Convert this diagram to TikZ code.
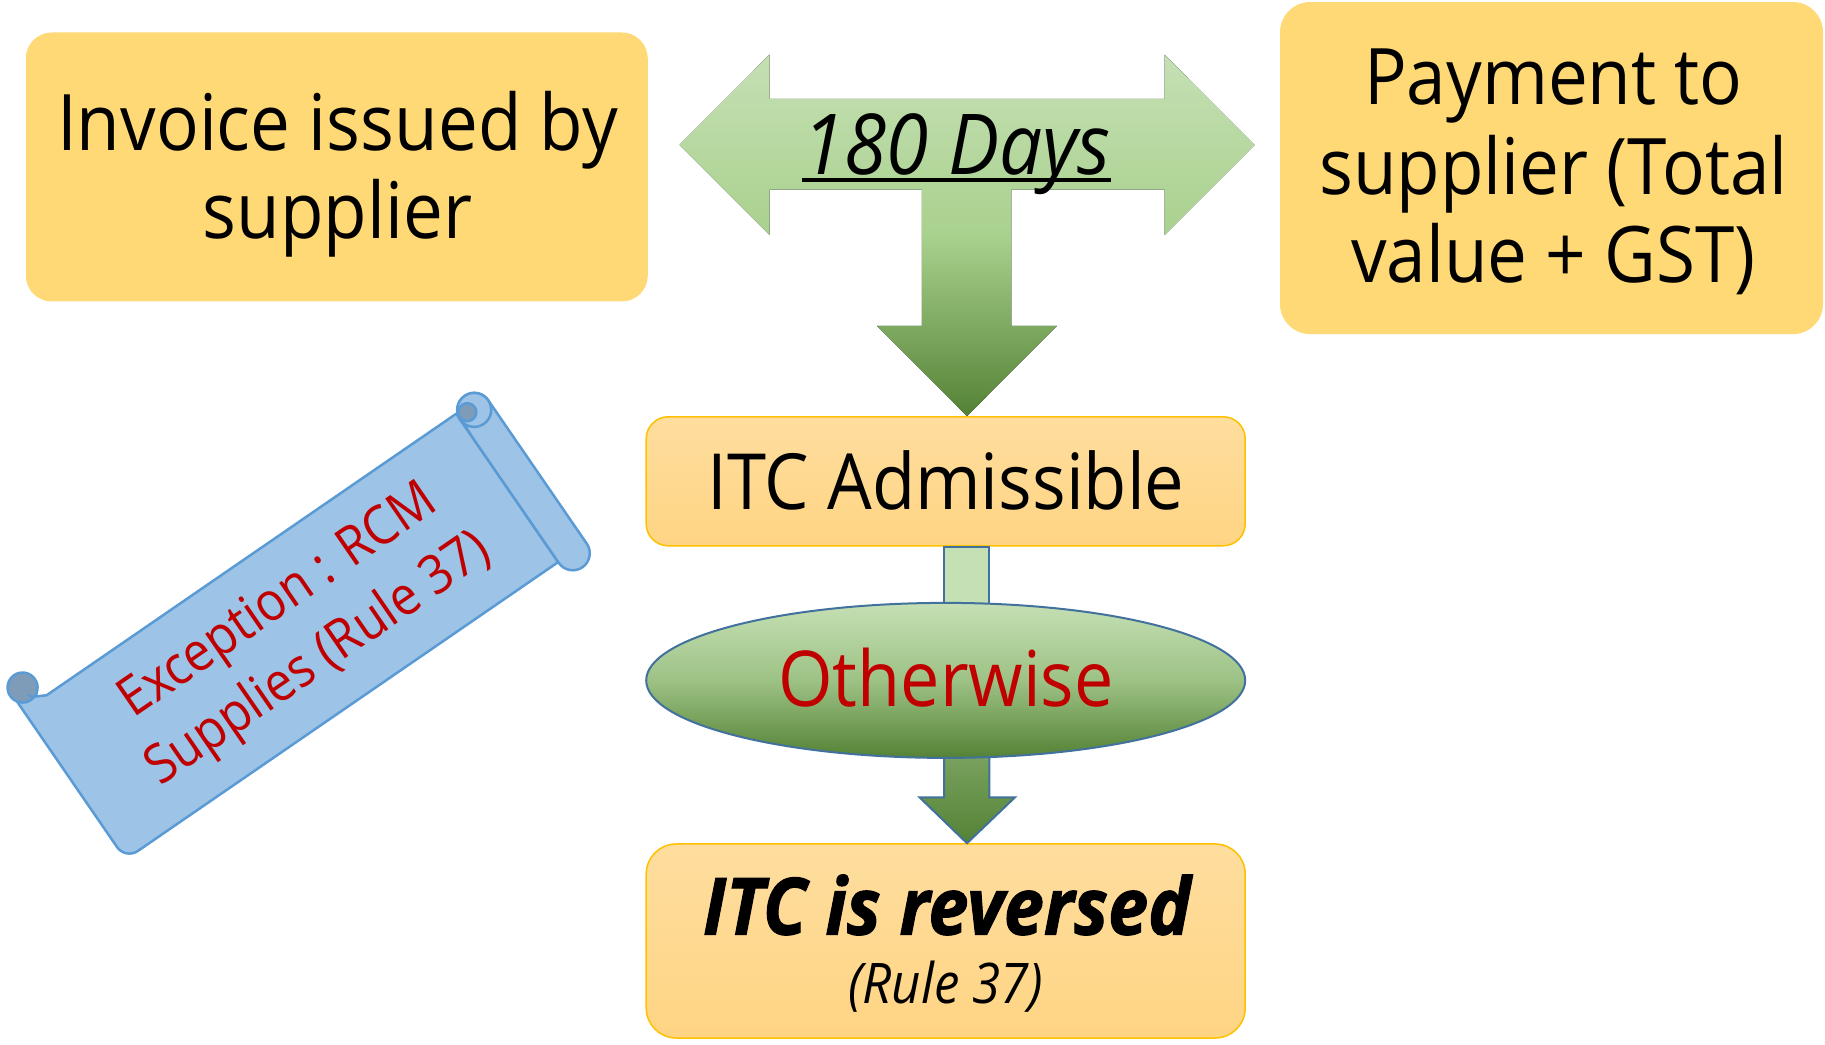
\documentclass[tikz,border=0pt]{standalone}
\usepackage{fontspec}
\setmainfont{Open Sans}[FakeStretch=0.91]
\newfontfamily\heavyfont{Open Sans}[FakeStretch=0.91, FakeBold=1.3]
\usetikzlibrary{shapes.geometric}

\definecolor{boxgold}{HTML}{FFD975}
\definecolor{orTop}{HTML}{FEDD9E}
\definecolor{orBot}{HTML}{FFD584}
\definecolor{orEdge}{HTML}{FFC000}
\definecolor{gA}{HTML}{C5E0B4}
\definecolor{gB}{HTML}{A9D18E}
\definecolor{gM}{HTML}{9DC285}
\definecolor{gC}{HTML}{548235}
\definecolor{gShaft}{HTML}{7EA664}
\definecolor{edgeBlue}{HTML}{41719C}
\definecolor{scrollFill}{HTML}{9DC3E6}
\definecolor{scrollEdge}{HTML}{5B9BD5}
\definecolor{curlFill}{HTML}{7E9CB8}
\definecolor{redTxt}{HTML}{C00000}

% green block-arrow gradient: light on top, dark at the tip
\pgfdeclareverticalshading{tarrowshade}{100bp}{color(0bp)=(gC); color(25bp)=(gC); color(50bp)=(gB); color(75bp)=(gA); color(100bp)=(gA)}
\pgfdeclareverticalshading{ovalshade}{100bp}{color(0bp)=(gC); color(25bp)=(gC); color(50bp)=(gM); color(75bp)=(gA); color(100bp)=(gA)}

\begin{document}
\begin{tikzpicture}[x=1pt,y=1pt,
  goldbox/.style={fill=boxgold, draw=none, rounded corners=26pt, inner sep=0pt},
  amberbox/.style={draw=orEdge, line width=1.5pt, top color=orTop, bottom color=orBot, rounded corners=22pt, inner sep=0pt},
  bigtxt/.style={font=\fontsize{78}{90}\selectfont, anchor=base, inner sep=0pt},
  midtxt/.style={font=\fontsize{77.5}{90}\selectfont, anchor=base, inner sep=0pt},
  bluestroke/.style={draw=edgeBlue, line width=2pt, line join=miter},
  scrollpart/.style={fill=scrollFill, draw=scrollEdge, line width=2.5pt, line join=round},
  curl/.style={fill=curlFill, draw=scrollEdge, line width=2.5pt}
]
\useasboundingbox (0,0) rectangle (1825,1044);

% ---------- top boxes ----------
\node[goldbox, minimum width=622pt, minimum height=269pt] (invoice) at (336.8,877) {};
\node[bigtxt] (invoiceA) at (337.5,893) {Invoice issued by};
\node[bigtxt] (invoiceB) at (337.5,805.4) {supplier};

\node[goldbox, rounded corners=30pt, minimum width=543pt, minimum height=332pt] (payment) at (1551.5,875.9) {};
\node[bigtxt] (payA) at (1553.5,939.3) {Payment to};
\node[bigtxt] (payB) at (1553.5,849.6) {supplier (Total};
\node[bigtxt] (payC) at (1553.5,761.2) {value + GST)};

% ---------- lower boxes ----------
\node[amberbox, minimum width=599pt, minimum height=129pt] (admit) at (945.7,562.7) {};
\node[midtxt] (admitT) at (946,534.2) {ITC Admissible};

\node[amberbox, rounded corners=30pt, minimum width=599pt, minimum height=194pt] (reverse) at (945.7,103) {};
\node[anchor=base, inner sep=0pt, font=\heavyfont\fontsize{79}{90}\selectfont\bfseries\itshape] (reverseT) at (946.9,109.4) {ITC is reversed};
\node[anchor=base, inner sep=0pt, font=\fontsize{56}{60}\selectfont\itshape] (ruleT) at (945.7,40.7) {(Rule 37)};

% ---------- T-shaped block arrow with the 180-day span ----------
\coordinate (ttip) at (967,0 |- admit.north);
\fill[shading=tarrowshade]
  (679.5,899) -- (769.5,989.3) -- (769.5,945) -- (1164.5,945) -- (1164.5,989.3)
  -- (1254.5,899) -- (1164.5,809) -- (1164.5,854.3) -- (1011.4,854.3)
  -- (1011.4,718) -- (1056.8,718) -- (ttip) -- (877.2,718) -- (921.8,718)
  -- (921.8,854.3) -- (769.5,854.3) -- (769.5,809) -- cycle;
\node[anchor=base, inner sep=0pt, font=\fontsize{84}{90}\selectfont\itshape] (days) at (956.7,869.4) {180 Days};
\draw[line width=4pt] ([yshift=-5.8pt]days.base west) -- ([yshift=-5.8pt]days.base east);

% ---------- connector stub and the "Otherwise" oval ----------
\coordinate (stubtop) at (944,0 |- admit.south);
\filldraw[fill=gA, bluestroke] (stubtop) rectangle (989.3,420);

\coordinate (arrtip) at (967,0 |- reverse.north);
\filldraw[bluestroke, top color=gShaft, bottom color=gC]
  (944,300) -- (944,246.7) -- (919.5,246.7) -- (arrtip) -- (1015,246.7)
  -- (989.3,246.7) -- (989.3,300) -- cycle;

\node[ellipse, minimum width=599pt, minimum height=155pt, inner sep=0pt,
      draw=edgeBlue, line width=2pt, shading=ovalshade] (other) at (945.7,363.6) {};
\node[midtxt, text=redTxt, font=\fontsize{77}{90}\selectfont] (otherT) at (946,337.5) {Otherwise};

% ---------- tilted scroll ----------
\begin{scope}[rotate=34.5]
  % sheet
  \draw[scrollpart] (208,276) -- (208,96) arc[start angle=180, end angle=270, radius=15]
    -- (733,81) -- (733,261) -- (236,261) -- cycle;
  % right-hand roll
  \draw[scrollpart] (733,254) -- (733,80) arc[start angle=180, end angle=360, radius=17]
    -- (767,254) arc[start angle=0, end angle=180, radius=17] -- cycle;
  \draw[scrollpart] (750,254) circle[radius=17];
  \draw[curl] (743,256) circle[radius=9];
  \draw[scrollEdge, line width=2.5pt] (734,256) -- (733,235);
  % left curl
  \draw[curl] (220.5,281) circle[radius=15];
  \draw[scrollEdge, line width=2pt] (221,272) arc[start angle=180, end angle=330, radius=5];
  \node[rotate=34.5, text=redTxt, align=center, inner sep=0pt,
        font=\fontsize{54}{71}\selectfont] (rcm) at (480,170)
        {Exception : RCM\\Supplies (Rule 37)};
\end{scope}
\end{tikzpicture}
\end{document}
